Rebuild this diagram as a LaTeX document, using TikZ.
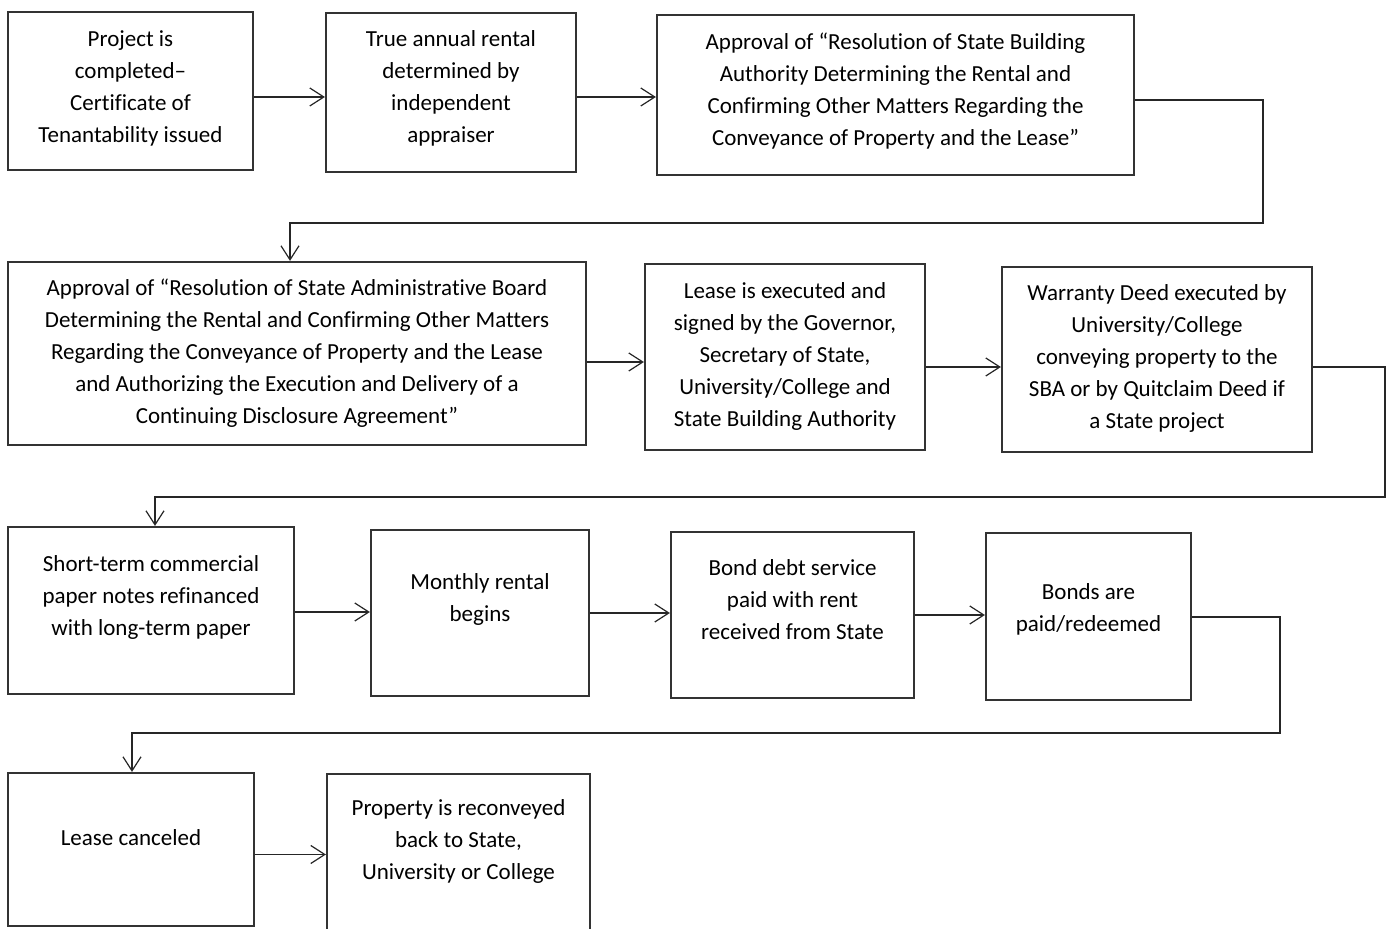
\documentclass[tikz,border=0pt]{standalone}
\usepackage{fontspec}
\setmainfont{Carlito}[Ligatures=NoCommon]
\usetikzlibrary{arrows.meta}

\begin{document}
\begin{tikzpicture}[x=0.5pt,y=-0.5pt]
        \tikzstyle{stage}=[rectangle,draw=black!80,line width=1.1pt,inner sep=0pt]
        \tikzstyle{every label}=[align=center,inner sep=0pt,font=\fontsize{11.5pt}{16pt}\selectfont]
        \tikzstyle{flow}=[draw=black!85,line width=0.6pt,->,>={Straight Barb[length=7pt,width=9pt]}]
        \tikzset{boxsize/.style 2 args={minimum width=#1*0.5pt,minimum height=#2*0.5pt}}
        \useasboundingbox (0,0) rectangle (1387,929);
        % first row
        \node[stage,boxsize={245}{158},label={[yshift=1.5pt]center:Project is\\completed--\\Certificate of\\Tenantability issued}] (proj) at (130.5,91) {};
        \node[stage,boxsize={250}{159},label={[yshift=2pt]center:True annual rental\\determined by\\independent\\appraiser}] (appr) at (451,92.5) {};
        \node[stage,boxsize={477}{160},label={[yshift=2pt]center:Approval of “Resolution of State Building\\Authority Determining the Rental and\\Confirming Other Matters Regarding the\\Conveyance of Property and the Lease”}] (sbares) at (895.5,95) {};
        % second row
        \node[stage,boxsize={578}{183},label={center:Approval of “Resolution of State Administrative Board\\Determining the Rental and Confirming Other Matters\\Regarding the Conveyance of Property and the Lease\\and Authorizing the Execution and Delivery of a\\Continuing Disclosure Agreement”}] (adm) at (297,353.5) {};
        \node[stage,boxsize={280}{186},label={[yshift=0.5pt]center:{Lease is executed and\\signed by the Governor,\\Secretary of State,\\University/College and\\State Building Authority}}] (lease) at (785,357) {};
        \node[stage,boxsize={310}{185},label={[yshift=0.5pt]center:Warranty Deed executed by\\University/College\\conveying property to the\\SBA or by Quitclaim Deed if\\a State project}] (deed) at (1157,359.5) {};
        % third row
        \node[stage,boxsize={286}{167},label={[yshift=6.75pt]center:Short-term commercial\\paper notes refinanced\\with long-term paper}] (refin) at (151,610.5) {};
        \node[stage,boxsize={218}{166},label={[yshift=7pt]center:Monthly rental\\begins}] (monthly) at (480,613) {};
        \node[stage,boxsize={243}{166},label={[yshift=7.5pt]center:Bond debt service\\paid with rent\\received from State}] (debt) at (792.5,615) {};
        \node[stage,boxsize={205}{167},label={[yshift=3.75pt]center:Bonds are\\paid/redeemed}] (bonds) at (1088.5,616.5) {};
        % last row
        \node[stage,boxsize={246}{153},label={[yshift=6pt]center:Lease canceled}] (cancel) at (131,849.5) {};
        \node[stage,boxsize={263}{157},label={[yshift=5.5pt]center:{Property is reconveyed\\back to State,\\University or College}}] (reconv) at (458.5,852.5) {};
        \coordinate (turnA) at (1263,223);
        \coordinate (turnB) at (1385,497);
        \coordinate (turnC) at (1280,733);
        \draw[flow] ([yshift=-3pt]proj.east) -- ([yshift=-3pt]proj.east -| appr.west);
        \draw[flow] ([yshift=-2.25pt]appr.east) -- ([yshift=-2.25pt]appr.east -| sbares.west);
        \draw[flow] ([yshift=-2.5pt]sbares.east) -| (turnA) -| ([xshift=-3.5pt]adm.north);
        \draw[flow] ([yshift=-4.25pt]adm.east) -- ([yshift=-4.25pt]adm.east -| lease.west);
        \draw[flow] ([yshift=-5pt]lease.east) -- ([yshift=-5pt]lease.east -| deed.west);
        \draw[flow] ([yshift=-3.75pt]deed.east) -| (turnB) -| ([xshift=2pt]refin.north);
        \draw[flow] ([yshift=-0.75pt]refin.east) -- ([yshift=-0.75pt]refin.east -| monthly.west);
        \draw[flow] (monthly.east) -- (monthly.east -| debt.west);
        \draw[flow] (debt.east) -- (debt.east -| bonds.west);
        \draw[flow] ([yshift=-0.25pt]bonds.east) -| (turnC) -| ([xshift=0.5pt]cancel.north);
        \draw[flow] ([yshift=-2.5pt]cancel.east) -- ([yshift=-2.5pt]cancel.east -| reconv.west);
      \end{tikzpicture}
\end{document}
